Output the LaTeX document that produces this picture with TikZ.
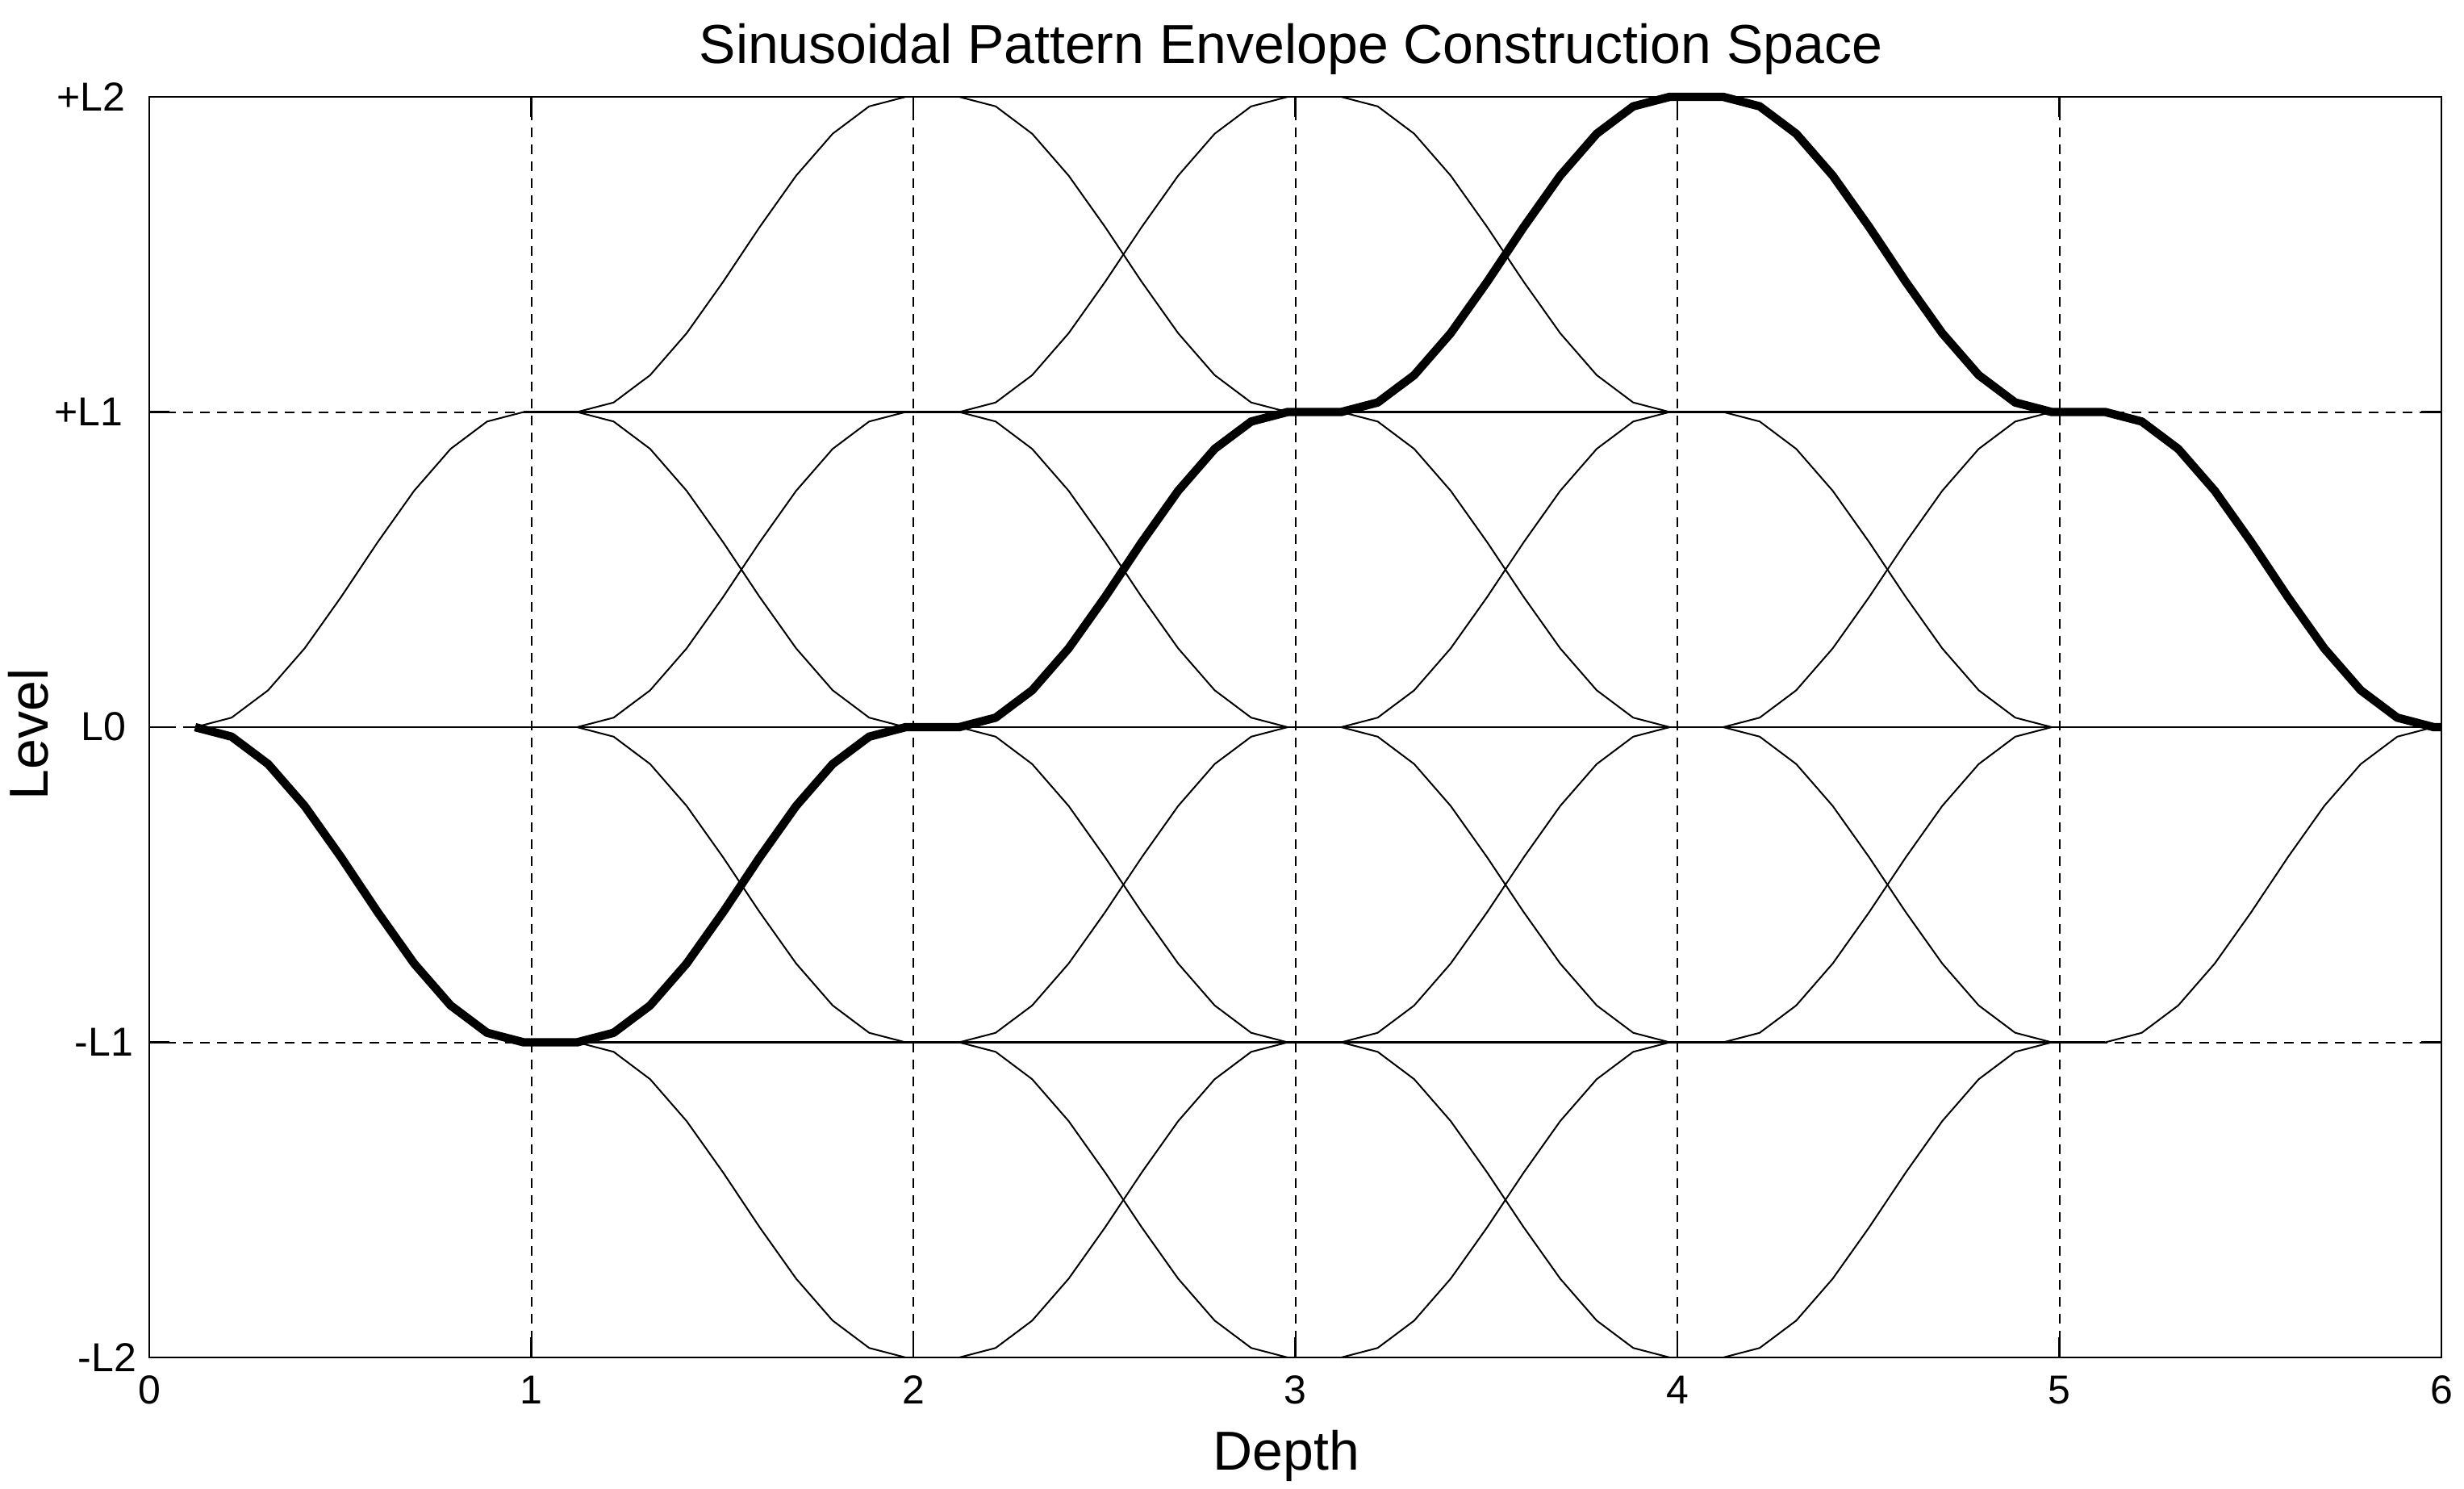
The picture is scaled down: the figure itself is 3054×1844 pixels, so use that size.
\documentclass[tikz,border=0pt]{standalone}
\usepackage{fontspec}
\setmainfont{Liberation Sans}
\begin{document}
\begin{tikzpicture}[x=0.25pt,y=-0.25pt,
  gridline/.style={line width=0.5pt, dash pattern=on 3pt off 2.25pt},
  flatline/.style={line width=0.55pt},
  thincurve/.style={line width=0.5pt, line join=round},
  thickcurve/.style={line width=2.6pt, line join=round},
  axisbox/.style={line width=0.7pt},
  tickmark/.style={line width=0.6pt},
  ticklabel/.style={font=\fontsize{12.5}{15}\selectfont, inner sep=0pt},
  axlabel/.style={font=\fontsize{17}{20}\selectfont, inner sep=0pt}]
\path[use as bounding box] (0,0) rectangle (3054,1844);

\begin{scope}[shift={(185,901)}, x=118.375pt, y=97.625pt]
  % grid
  \foreach \dd in {1,...,5} \draw[gridline] (\dd,-2) -- (\dd,2);
  \foreach \lv in {-1,0,1} \draw[gridline] (0,\lv) -- (6,\lv);
  % flat (stay) lines
  \draw[flatline] (0.11,0) -- (6,0);
  \draw[flatline] (0.98,1) -- (5.12,1);
  \draw[flatline] (0.98,-1) -- (5.12,-1);
  % thin transitions
  \foreach \dd/\la/\lb in {0/0/1,0/0/-1,
      1/-1/-2,1/-1/0,1/0/1,1/0/-1,1/1/0,1/1/2,
      2/-2/-1,2/-1/-2,2/-1/0,2/0/1,2/0/-1,2/1/0,2/1/2,2/2/1,
      3/-2/-1,3/-1/-2,3/-1/0,3/0/1,3/0/-1,3/1/0,3/1/2,3/2/1,
      4/-2/-1,4/-1/0,4/0/1,4/0/-1,4/1/0,4/2/1,
      5/-1/0,5/1/0}
    \draw[thincurve] plot[domain=0:1, samples=10, variable=\t]
      ({\dd+0.12+0.86*\t},{(\la)+((\lb)-(\la))*(1-cos(180*\t))/2});
  % thick envelope
  \draw[thickcurve]
    plot[domain=0:1, samples=10, variable=\t] ({0.12+0.86*\t},{-(1-cos(180*\t))/2})
    -- plot[domain=0:1, samples=10, variable=\t] ({1.12+0.86*\t},{-1+(1-cos(180*\t))/2})
    -- plot[domain=0:1, samples=10, variable=\t] ({2.12+0.86*\t},{(1-cos(180*\t))/2})
    -- plot[domain=0:1, samples=10, variable=\t] ({3.12+0.86*\t},{1+(1-cos(180*\t))/2})
    -- plot[domain=0:1, samples=10, variable=\t] ({4.12+0.86*\t},{2-(1-cos(180*\t))/2})
    -- plot[domain=0:1, samples=10, variable=\t] ({5.12+0.86*\t},{1-(1-cos(180*\t))/2})
    -- (6,0);
  % ticks
  \foreach \dd in {0,...,6} {
    \draw[tickmark] (\dd,-2) -- ++(0,0.064);
    \draw[tickmark] (\dd,2) -- ++(0,-0.064);
  }
  \foreach \lv in {-2,...,2} {
    \draw[tickmark] (0,\lv) -- ++(0.0528,0);
    \draw[tickmark] (6,\lv) -- ++(-0.0528,0);
  }
  % box
  \draw[axisbox] (0,-2) rectangle (6,2);
\end{scope}

% labels
\node[axlabel, anchor=base] (title) at (1600,78) {Sinusoidal Pattern Envelope Construction Space};
\node[axlabel, anchor=base] (xlab) at (1594.5,1821) {Depth};
\node[axlabel, anchor=base, rotate=90] (ylab) at (60,910) {Level};
\foreach \dd in {0,...,6}
  \node[ticklabel, anchor=base] (xt\dd) at ({185+473.5*\dd},1739) {\dd};
\node[ticklabel, anchor=base east] (yt2) at (156,137) {+L2};
\node[ticklabel, anchor=base east] (yt1) at (153,527) {+L1};
\node[ticklabel, anchor=base east] (yt0) at (157,917) {L0};
\node[ticklabel, anchor=base east] (ytm1) at (166,1308) {-L1};
\node[ticklabel, anchor=base east] (ytm2) at (170,1699) {-L2};
\end{tikzpicture}
\end{document}
